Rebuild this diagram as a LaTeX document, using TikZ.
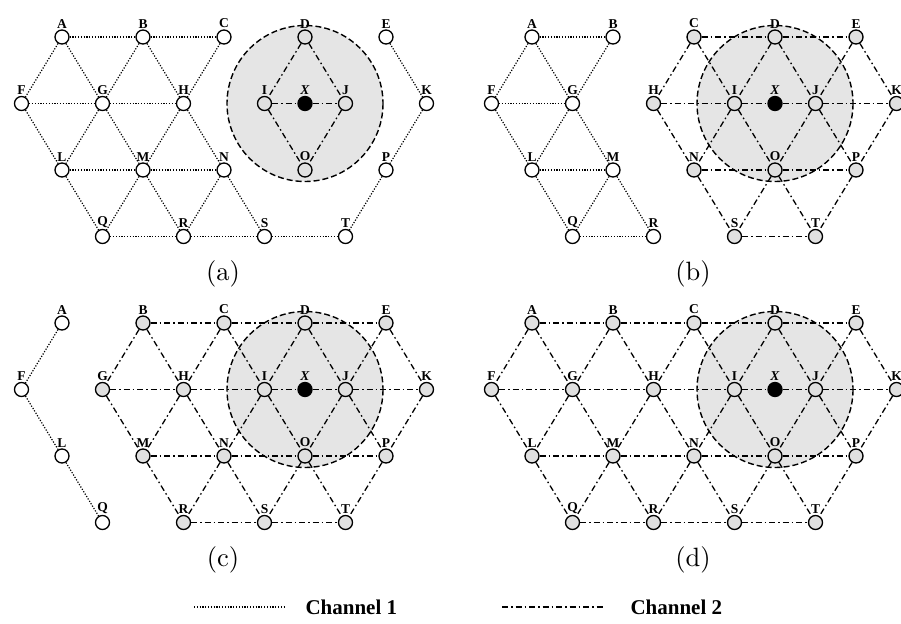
\documentclass[tikz,border=0pt]{standalone}
\usepackage{fontspec}
\newfontfamily\timesf{Liberation Serif}
\usetikzlibrary{positioning}

% lattice: letter / half-column / row
\newcommand{\latticepts}{A/0/0,B/2/0,C/4/0,D/6/0,E/8/0,F/-1/1,G/1/1,H/3/1,I/5/1,J/7/1,K/9/1,X/6/1,L/0/2,M/2/2,N/4/2,O/6/2,P/8/2,Q/1/3,R/3/3,S/5/3,T/7/3}

\begin{document}
\begin{tikzpicture}[x=1pt,y=-1pt,
    site/.style={circle,draw,line width=1.35pt,minimum size=14pt,inner sep=0pt},
    free/.style={site,fill=white},
    busy/.style={site,fill=gray!24},
    hub/.style={site,fill=black},
    tag/.style={font=\timesf\bfseries\fontsize{13.5}{14}\selectfont,inner sep=1pt,label distance=0pt},
    chone/.style={line width=1.2pt,dash pattern=on 1.2pt off 1.6pt},
    chtwo/.style={line width=1.3pt,dash pattern=on 6pt off 3pt on 1.5pt off 3pt},
    zone/.style={draw,fill=gray!20,line width=1.4pt,dash pattern=on 6pt off 3pt},
    subcap/.style={font=\fontsize{10}{12}\selectfont,scale=2.65},
    keytext/.style={font=\timesf\bfseries\fontsize{21}{24}\selectfont,anchor=west}]
  \useasboundingbox (0,0) rectangle (901,623);

  % (a)
  \begin{scope}[name prefix=a-]
    \foreach \n/\c/\r in \latticepts \coordinate (\n) at ({62+40.5*\c},{37+66.5*\r});
    \path[zone] (X) circle (78);
    \foreach \n in {A,B,C,E,F,G,H,K,L,M,N,P,Q,R,S,T}
      \node[free,label={[tag]above:\n}] (n\n) at (\n) {};
    \foreach \n in {D,I,J,O}
      \node[busy,label={[tag]above:\n}] (n\n) at (\n) {};
    \node[hub,label={[tag]above:\textit{X}}] (nX) at (X) {};
    \foreach \u/\v in {A/B,B/C,A/F,A/G,B/G,B/H,C/H,F/G,G/H,F/L,G/L,G/M,H/M,H/N,L/M,M/N,L/Q,M/Q,M/R,N/R,N/S,Q/R,R/S,S/T,E/K,K/P,P/T}
      \draw[chone] (n\u) -- (n\v);
    \foreach \u/\v in {D/I,D/J,I/X,X/J,I/O,J/O}
      \draw[chtwo] (n\u) -- (n\v);
    \node[subcap] (cap) at (223,274) {(a)};
  \end{scope}

  % (b)
  \begin{scope}[shift={(470,0)},name prefix=b-]
    \foreach \n/\c/\r in \latticepts \coordinate (\n) at ({62+40.5*\c},{37+66.5*\r});
    \path[zone] (X) circle (78);
    \foreach \n in {A,B,F,G,L,M,Q,R}
      \node[free,label={[tag]above:\n}] (n\n) at (\n) {};
    \foreach \n in {C,D,E,H,I,J,K,N,O,P,S,T}
      \node[busy,label={[tag]above:\n}] (n\n) at (\n) {};
    \node[hub,label={[tag]above:\textit{X}}] (nX) at (X) {};
    \foreach \u/\v in {A/B,A/F,A/G,B/G,F/G,F/L,G/L,G/M,L/M,L/Q,M/Q,M/R,Q/R}
      \draw[chone] (n\u) -- (n\v);
    \foreach \u/\v in {C/D,D/E,C/H,C/I,D/I,D/J,E/J,E/K,H/I,I/X,X/J,J/K,H/N,I/N,I/O,J/O,J/P,K/P,N/O,O/P,N/S,O/S,O/T,P/T,S/T}
      \draw[chtwo] (n\u) -- (n\v);
    \node[subcap] (cap) at (223,274) {(b)};
  \end{scope}

  % (c)
  \begin{scope}[shift={(0,286)},name prefix=c-]
    \foreach \n/\c/\r in \latticepts \coordinate (\n) at ({62+40.5*\c},{37+66.5*\r});
    \path[zone] (X) circle (78);
    \foreach \n in {A,F,L,Q}
      \node[free,label={[tag]above:\n}] (n\n) at (\n) {};
    \foreach \n in {B,C,D,E,G,H,I,J,K,M,N,O,P,R,S,T}
      \node[busy,label={[tag]above:\n}] (n\n) at (\n) {};
    \node[hub,label={[tag]above:\textit{X}}] (nX) at (X) {};
    \foreach \u/\v in {A/F,F/L,L/Q}
      \draw[chone] (n\u) -- (n\v);
    \foreach \u/\v in {B/C,C/D,D/E,B/G,B/H,C/H,C/I,D/I,D/J,E/J,E/K,G/H,H/I,I/X,X/J,J/K,G/M,H/M,H/N,I/N,I/O,J/O,J/P,K/P,M/N,N/O,O/P,M/R,N/R,N/S,O/S,O/T,P/T,R/S,S/T}
      \draw[chtwo] (n\u) -- (n\v);
    \node[subcap] (cap) at (223,274) {(c)};
  \end{scope}

  % (d)
  \begin{scope}[shift={(470,286)},name prefix=d-]
    \foreach \n/\c/\r in \latticepts \coordinate (\n) at ({62+40.5*\c},{37+66.5*\r});
    \path[zone] (X) circle (78);
    \foreach \n in {A,B,C,D,E,F,G,H,I,J,K,L,M,N,O,P,Q,R,S,T}
      \node[busy,label={[tag]above:\n}] (n\n) at (\n) {};
    \node[hub,label={[tag]above:\textit{X}}] (nX) at (X) {};
    \foreach \u/\v in {A/B,B/C,C/D,D/E,A/F,A/G,B/G,B/H,C/H,C/I,D/I,D/J,E/J,E/K,F/G,G/H,H/I,I/X,X/J,J/K,F/L,G/L,G/M,H/M,H/N,I/N,I/O,J/O,J/P,K/P,L/M,M/N,N/O,O/P,L/Q,M/Q,M/R,N/R,N/S,O/S,O/T,P/T,Q/R,R/S,S/T}
      \draw[chtwo] (n\u) -- (n\v);
    \node[subcap] (cap) at (223,274) {(d)};
  \end{scope}

  % legend
  \coordinate (l1a) at (194,607);
  \coordinate (l1b) at (285,607);
  \draw[chone] (l1a) -- (l1b);
  \node[keytext,right=17pt of l1b] (key1) {Channel 1};
  \coordinate (l2a) at (502,607);
  \coordinate (l2b) at (605,607);
  \draw[chtwo] (l2a) -- (l2b);
  \node[keytext,right=22pt of l2b] (key2) {Channel 2};
\end{tikzpicture}
\end{document}
